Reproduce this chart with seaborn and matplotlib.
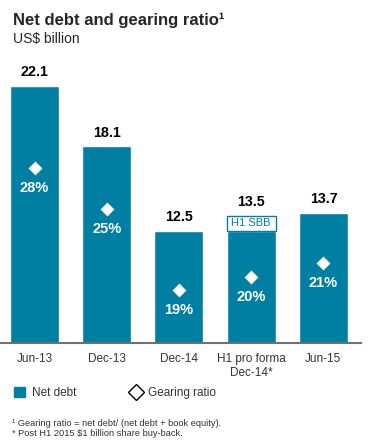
import numpy as np
import pandas as pd
import matplotlib
matplotlib.use("Agg")
import matplotlib.pyplot as plt
import seaborn as sns
from matplotlib.patches import Patch
from matplotlib.lines import Line2D

# chart data
periods = ["Jun-13", "Dec-13", "Dec-14", "H1 pro forma\nDec-14*", "Jun-15"]
net_debt = [22.1, 18.1, 12.5, 13.5, 13.7]
share_buyback = [0.0, 0.0, 0.0, 1.0, 0.0]
gearing = [28, 25, 19, 20, 21]

BLUE = "#007fa3"

sns.set_theme(style="white")
plt.rcParams["font.family"] = ["Liberation Sans", "DejaVu Sans"]

df = pd.DataFrame({
    "period": periods,
    "total": net_debt,
    "sbb": share_buyback,
    "gearing": gearing,
})
df["base"] = df["total"] - df["sbb"]
pos = np.arange(len(df))

W, H = 369, 444
fig = plt.figure(figsize=(W / 100, H / 100), dpi=100)
ax = fig.add_axes([0, 1 - 343 / H, 361 / W, (343 - 60) / H])

bar_w = 0.678
sns.barplot(data=df, x="period", y="base", color=BLUE, saturation=1,
            width=bar_w, ax=ax)

# share buy-back segment on top of the pro forma bar
for i, row in df.iterrows():
    if row["sbb"] > 0:
        ax.bar(i, row["sbb"], bottom=row["base"], width=bar_w,
               color="white", edgecolor=BLUE, linewidth=1, zorder=3)
        ax.text(i, row["base"] + row["sbb"] / 2, "H1 SBB", ha="center",
                va="center", color=BLUE, fontsize=8, zorder=4)

for i, v in enumerate(df["total"]):
    ax.annotate(f"{v}", (i, v), xytext=(0, 10), textcoords="offset points",
                ha="center", va="center", fontsize=10.3, fontweight="bold",
                color="black")

ax.set_xlim(-0.478, 4.52)
ax.set_ylim(5.08, 5.08 + 283 / 15.1)
ax.set_xlabel("")
ax.set_ylabel("")
ax.set_yticks([])
ax.tick_params(axis="x", length=0, pad=7, labelsize=8.5, labelcolor="#333333")
for side in ["top", "right", "left"]:
    ax.spines[side].set_visible(False)
ax.spines["bottom"].set_color("#707070")
ax.spines["bottom"].set_linewidth(1.5)

# gearing ratio on a hidden secondary scale
ax2 = ax.twinx()
sns.scatterplot(x=pos, y=df["gearing"], marker="D", s=50, color="white",
                linewidth=0, ax=ax2, zorder=5)
for i, g in enumerate(df["gearing"]):
    ax2.annotate(f"{g}%", (i, g), xytext=(0, -14.5), textcoords="offset points",
                 ha="center", va="center", fontsize=10.5, fontweight="bold",
                 color="white")
ax2.set_ylim(15.12, 15.12 + 283 / 13.6)
ax2.set_xlim(-0.478, 4.52)
ax2.set_yticks([])
ax2.set_ylabel("")
for side in ["top", "right", "left", "bottom"]:
    ax2.spines[side].set_visible(False)

fig.text(13 / W, 1 - 20 / H, "Net debt and gearing ratio\u00b9", fontsize=12,
         fontweight="bold", va="center", ha="left")
fig.text(13 / W, 1 - 39 / H, "US$ billion", fontsize=10, va="center", ha="left")

handles = [
    Patch(facecolor=BLUE, edgecolor=BLUE),
    Line2D([], [], marker="D", linestyle="none", markerfacecolor="white",
           markeredgecolor="black", markersize=8, markeredgewidth=1),
]
fig.legend(handles, ["Net debt", "Gearing ratio"], loc="center left",
           bbox_to_anchor=(8 / W, 1 - 393 / H), ncol=2, frameon=False,
           fontsize=8.5, handlelength=0.9, handleheight=0.9,
           handletextpad=0.6, columnspacing=4.6, borderpad=0,
           labelcolor="#333333")

fig.text(12 / W, 1 - 423 / H,
         "\u00b9 Gearing ratio = net debt/ (net debt + book equity).",
         fontsize=6.7, va="center", ha="left", color="#333333")
fig.text(12 / W, 1 - 433 / H, "* Post H1 2015 $1 billion share buy-back.",
         fontsize=6.7, va="center", ha="left", color="#333333")

fig.savefig("out.png", dpi=100)
